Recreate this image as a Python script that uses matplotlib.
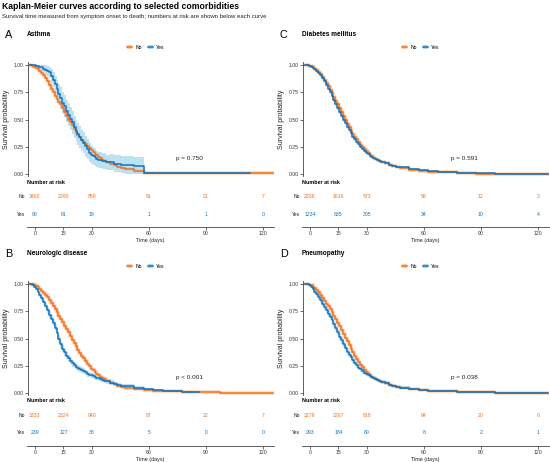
import numpy as np
import matplotlib
matplotlib.use("Agg")
import matplotlib.pyplot as plt
from matplotlib.lines import Line2D
from matplotlib.patches import Patch

plt.rcParams["font.family"] = ["Liberation Sans", "DejaVu Sans"]

days = list(range(0, 41)) + [42, 44, 46, 48, 50, 55, 60, 65, 70, 80, 90, 100, 110, 120, 128]
nan = np.nan

# A - Asthma
asthma_no = [1.0, 0.995, 0.985, 0.973, 0.96, 0.944, 0.925, 0.905, 0.885, 0.85,
             0.815, 0.783, 0.75, 0.72, 0.69, 0.665, 0.64, 0.605, 0.57, 0.535,
             0.50, 0.475, 0.45, 0.42, 0.39, 0.365, 0.34, 0.317, 0.295, 0.277,
             0.26, 0.242, 0.225, 0.207, 0.19, 0.175, 0.16, 0.147, 0.135, 0.125,
             0.115] + \
            [0.098, 0.083, 0.07, 0.058, 0.048, 0.028, 0.016, 0.013, 0.012, 0.01,
             0.01, 0.01, 0.01, 0.01, 0.01]
asthma_yes = [1.0, 1.0, 1.0, 0.989, 0.989, 0.978, 0.978, 0.967, 0.956, 0.944,
              0.933, 0.9, 0.867, 0.822, 0.778, 0.733, 0.7, 0.656, 0.622, 0.578,
              0.544, 0.511, 0.478, 0.433, 0.4, 0.367, 0.344, 0.311, 0.289, 0.256,
              0.233, 0.2, 0.178, 0.167, 0.156, 0.144, 0.133, 0.133, 0.122, 0.122,
              0.111] + \
             [0.111, 0.1, 0.1, 0.089, 0.089, 0.078, 0.011, 0.011, 0.011, 0.011,
              0.011, 0.011, 0.011, nan, nan]
asthma_yes_ci = [0, 0, 0, 0.015, 0.02, 0.025, 0.03, 0.035, 0.04, 0.045,
                 0.05, 0.06, 0.07, 0.078, 0.085, 0.09, 0.095, 0.098, 0.10, 0.102,
                 0.105, 0.105, 0.105, 0.102, 0.10, 0.10, 0.10, 0.097, 0.095, 0.092,
                 0.09, 0.085, 0.08, 0.078, 0.075, 0.072, 0.07, 0.07, 0.07, 0.07,
                 0.07] + \
                [0.072, 0.074, 0.076, 0.078, 0.08, 0.08, 0.005, 0.005, 0.005, 0.005,
                 0.005, 0.005, 0.005, nan, nan]

# B - Neurologic disease
neuro_no = [1.0, 0.996, 0.99, 0.981, 0.97, 0.956, 0.94, 0.921, 0.90, 0.878,
            0.855, 0.828, 0.80, 0.77, 0.74, 0.71, 0.68, 0.65, 0.62, 0.59,
            0.56, 0.525, 0.49, 0.46, 0.43, 0.40, 0.37, 0.345, 0.32, 0.295,
            0.27, 0.249, 0.228, 0.211, 0.195, 0.18, 0.165, 0.152, 0.14, 0.129,
            0.118] + \
           [0.10, 0.085, 0.072, 0.061, 0.052, 0.04, 0.031, 0.025, 0.02, 0.013,
            0.01, 0.008, 0.007, 0.006, 0.006]
neuro_yes = [1.0, 0.992, 0.975, 0.954, 0.93, 0.90, 0.87, 0.837, 0.80, 0.76,
             0.72, 0.682, 0.645, 0.60, 0.55, 0.50, 0.45, 0.41, 0.375, 0.345,
             0.32, 0.297, 0.275, 0.259, 0.245, 0.234, 0.225, 0.215, 0.205, 0.192,
             0.18, 0.172, 0.165, 0.157, 0.15, 0.144, 0.138, 0.131, 0.125, 0.117,
             0.11] + \
            [0.10, 0.088, 0.078, 0.072, 0.067, 0.05, 0.038, 0.031, 0.025, 0.013,
             nan, nan, nan, nan, nan]
neuro_yes_ci = [0, 0.005, 0.01, 0.014, 0.017, 0.02, 0.022, 0.025, 0.027, 0.029,
                0.03, 0.031, 0.032, 0.033, 0.033, 0.033, 0.033, 0.033, 0.032, 0.031,
                0.03, 0.03, 0.029, 0.029, 0.028, 0.028, 0.027, 0.027, 0.026, 0.026,
                0.025, 0.025, 0.024, 0.024, 0.024, 0.023, 0.023, 0.022, 0.022, 0.021,
                0.021] + \
               [0.02, 0.02, 0.019, 0.018, 0.017, 0.015, 0.013, 0.012, 0.01, 0.008,
                nan, nan, nan, nan, nan]

# C - Diabetes mellitus
diab_no = [1.0, 0.998, 0.994, 0.987, 0.978, 0.966, 0.952, 0.935, 0.915, 0.891,
           0.865, 0.836, 0.805, 0.773, 0.74, 0.708, 0.675, 0.64, 0.605, 0.57,
           0.535, 0.50, 0.465, 0.432, 0.40, 0.372, 0.345, 0.32, 0.295, 0.272,
           0.25, 0.231, 0.212, 0.196, 0.18, 0.167, 0.154, 0.143, 0.133, 0.124,
           0.115] + \
          [0.101, 0.088, 0.077, 0.067, 0.058, 0.042, 0.031, 0.025, 0.02, 0.013,
           0.009, 0.007, 0.005, 0.004, 0.004]
diab_yes = [1.0, 0.998, 0.993, 0.985, 0.975, 0.962, 0.945, 0.926, 0.905, 0.879,
            0.85, 0.818, 0.785, 0.75, 0.715, 0.68, 0.645, 0.61, 0.575, 0.537,
            0.50, 0.467, 0.435, 0.404, 0.375, 0.347, 0.32, 0.297, 0.275, 0.255,
            0.235, 0.217, 0.20, 0.186, 0.172, 0.161, 0.15, 0.141, 0.132, 0.124,
            0.116] + \
           [0.103, 0.091, 0.081, 0.072, 0.064, 0.048, 0.037, 0.03, 0.024, 0.016,
            0.011, 0.008, 0.006, 0.005, 0.005]
diab_yes_ci = [0, 0.002, 0.004, 0.006, 0.007, 0.009, 0.01, 0.011, 0.012, 0.013,
               0.014, 0.015, 0.016, 0.016, 0.017, 0.017, 0.018, 0.018, 0.018, 0.018,
               0.018, 0.018, 0.018, 0.017, 0.017, 0.016, 0.016, 0.015, 0.015, 0.014,
               0.014, 0.013, 0.013, 0.012, 0.012, 0.011, 0.011, 0.01, 0.01, 0.01,
               0.01] + \
              [0.009, 0.009, 0.008, 0.008, 0.008, 0.007, 0.006, 0.005, 0.005, 0.004,
               0.004, 0.003, 0.003, 0.003, 0.003]

# D - Pneumopathy
pneumo_no = [1.0, 0.999, 0.995, 0.987, 0.975, 0.961, 0.945, 0.924, 0.90, 0.872,
             0.845, 0.82, 0.795, 0.768, 0.74, 0.71, 0.68, 0.648, 0.615, 0.58,
             0.545, 0.51, 0.475, 0.44, 0.405, 0.375, 0.345, 0.317, 0.29, 0.263,
             0.238, 0.217, 0.197, 0.182, 0.167, 0.155, 0.143, 0.133, 0.123, 0.114,
             0.105] + \
            [0.092, 0.081, 0.07, 0.061, 0.054, 0.04, 0.031, 0.026, 0.021, 0.015,
             0.011, 0.009, 0.008, 0.007, 0.007]
pneumo_yes = [1.0, 0.997, 0.99, 0.975, 0.955, 0.93, 0.905, 0.879, 0.852, 0.82,
              0.79, 0.76, 0.73, 0.70, 0.67, 0.635, 0.60, 0.56, 0.52, 0.485,
              0.45, 0.416, 0.382, 0.355, 0.33, 0.305, 0.282, 0.259, 0.237, 0.22,
              0.203, 0.191, 0.18, 0.17, 0.16, 0.15, 0.14, 0.131, 0.122, 0.113,
              0.105] + \
             [0.093, 0.082, 0.072, 0.063, 0.054, 0.04, 0.03, 0.025, 0.02, 0.014,
              0.011, 0.009, 0.008, 0.007, 0.007]
pneumo_yes_ci = [0, 0.004, 0.008, 0.011, 0.014, 0.017, 0.019, 0.021, 0.022, 0.024,
                 0.025, 0.026, 0.027, 0.027, 0.028, 0.028, 0.029, 0.029, 0.029, 0.029,
                 0.029, 0.028, 0.028, 0.027, 0.027, 0.026, 0.026, 0.025, 0.025, 0.024,
                 0.024, 0.023, 0.022, 0.022, 0.021, 0.02, 0.02, 0.019, 0.019, 0.018,
                 0.018] + \
                [0.017, 0.016, 0.015, 0.014, 0.014, 0.012, 0.011, 0.01, 0.01, 0.009,
                 0.008, 0.008, 0.007, 0.007, 0.007]

risk_days = [0, 15, 30, 60, 90, 120]
asthma_risk_no = [3462, 2390, 859, 91, 21, 7]
asthma_risk_yes = [90, 61, 19, 1, 1, 0]
neuro_risk_no = [3333, 2324, 840, 87, 22, 7]
neuro_risk_yes = [239, 127, 38, 5, 0, 0]
diab_risk_no = [2338, 1616, 573, 58, 12, 3]
diab_risk_yes = [1234, 835, 305, 34, 10, 4]
pneumo_risk_no = [3279, 2267, 818, 84, 20, 6]
pneumo_risk_yes = [293, 184, 60, 8, 2, 1]

# last follow-up day of each curve: (no, yes)
asthma_end = (128, 116)
neuro_end = (128, 89)
diab_end = (128, 128)
pneumo_end = (128, 128)

ORANGE = "#F2701F"
BLUE = "#1273BE"
ORANGE_FILL = "#FBCBA8"
BLUE_FILL = "#A9D7EE"

W, H = 550, 462
fig = plt.figure(figsize=(W / 100, H / 100), dpi=100)


def box(l, t, r, b):
    return [l / W, 1 - b / H, (r - l) / W, (b - t) / H]


def curve(s, end):
    s = np.array(s, dtype=float)
    t = np.array(days, dtype=float)
    keep = ~np.isnan(s)
    t, s = t[keep], s[keep]
    t = np.append(t[t < end], end)
    s = np.append(s[:len(t) - 1], s[len(t) - 2])
    return t, s


def panel(dx, dy, letter, name, s_no, s_yes, ci_yes, ends, r_no, r_yes, ptxt):
    fig.text((5 + dx) / W, 1 - (35 + dy) / H, letter, fontsize=7.8, va="center", ha="left")
    fig.text((27 + dx) / W, 1 - (34.5 + dy) / H, name, fontsize=4.7, fontweight="bold",
             va="center", ha="left")

    ax = fig.add_axes(box(27.7 + dx, 62 + dy, 274 + dx, 176 + dy))
    t, s = curve(s_no, ends[0])
    ax.step(t, s, where="post", color=ORANGE_FILL, lw=2.6, alpha=0.8, zorder=1)
    ax.step(t, s, where="post", color=ORANGE, lw=1.1, zorder=3)
    t, s = curve(s_yes, ends[1])
    _, hw = curve(ci_yes, ends[1])
    ax.fill_between(t, np.clip(s - hw, 0, 1), np.clip(s + hw, 0, 1), step="post",
                    color=BLUE_FILL, alpha=0.75, lw=0, zorder=2)
    ax.step(t, s, where="post", color=BLUE, lw=1.1, zorder=4)
    ax.set_xlim(-1.2, 128.5)
    ax.set_ylim(-0.0137, 1.0274)
    ax.set_yticks([0, 0.25, 0.5, 0.75, 1.0])
    ax.set_yticklabels(["0.00", "0.25", "0.50", "0.75", "1.00"])
    ax.set_xticks([])
    for k in ["top", "right", "bottom"]:
        ax.spines[k].set_visible(False)
    ax.spines["left"].set_color("#444444")
    ax.spines["left"].set_linewidth(0.6)
    ax.tick_params(axis="y", labelsize=3.7, length=2, width=0.5, pad=1, colors="#333333")
    ax.set_ylabel("Survival probability", fontsize=5, labelpad=2.5, color="#222222")
    ax.text(84, 0.15, ptxt, fontsize=4.6, ha="center", va="center", color="#222222")

    handles = [(Patch(facecolor=ORANGE_FILL, edgecolor="none"), Line2D([], [], color=ORANGE, lw=1.1)),
               (Patch(facecolor=BLUE_FILL, edgecolor="none"), Line2D([], [], color=BLUE, lw=1.1))]
    ax.legend(handles, ["No", "Yes"], loc="center", bbox_to_anchor=(0.48, 1.13), ncol=2,
              frameon=False, fontsize=3.7, handlelength=1.0, handleheight=1.0,
              columnspacing=1.2, handletextpad=0.6)

    tb = fig.add_axes(box(27 + dx, 177 + dy, 274 + dx, 227 + dy))
    tb.set_xlim(-4.2, 125.8)
    tb.set_ylim(0, 1)
    for k in ["top", "right", "left"]:
        tb.spines[k].set_visible(False)
    tb.spines["bottom"].set_color("#444444")
    tb.spines["bottom"].set_linewidth(0.6)
    tb.set_yticks([])
    tb.set_xticks(risk_days)
    tb.tick_params(axis="x", labelsize=3.7, length=2, width=0.5, pad=1, colors="#333333")
    tb.set_xlabel("Time (days)", fontsize=3.9, labelpad=1.5, color="#222222")
    tb.text(0, 0.9, "Number at risk", transform=tb.transAxes, fontsize=3.9,
            fontweight="bold", ha="left", va="center")
    for y, lab, vals, c in [(0.606, "No", r_no, ORANGE), (0.26, "Yes", r_yes, BLUE)]:
        tb.text(-0.008, y, lab, transform=tb.transAxes, fontsize=3.6, ha="right",
                va="center", color="#222222")
        for d, v in zip(risk_days, vals):
            tb.text(d, y, str(v), fontsize=3.7, ha="center", va="center", color=c)


fig.text(2 / W, 1 - 6.5 / H, "Kaplan-Meier curves according to selected comorbidities",
         fontsize=6.2, fontweight="bold", ha="left", va="center")
fig.text(2 / W, 1 - 16.5 / H,
         "Survival time measured from symptom onset to death; numbers at risk are shown below each curve",
         fontsize=4.35, ha="left", va="center", color="#222222")

panel(0, 0, "A", "Asthma", asthma_no, asthma_yes, asthma_yes_ci, asthma_end,
      asthma_risk_no, asthma_risk_yes, "p = 0.750")
panel(275, 0, "C", "Diabetes mellitus", diab_no, diab_yes, diab_yes_ci, diab_end,
      diab_risk_no, diab_risk_yes, "p = 0.591")
panel(0, 219, "B", "Neurologic disease", neuro_no, neuro_yes, neuro_yes_ci, neuro_end,
      neuro_risk_no, neuro_risk_yes, "p < 0.001")
panel(275, 219, "D", "Pneumopathy", pneumo_no, pneumo_yes, pneumo_yes_ci, pneumo_end,
      pneumo_risk_no, pneumo_risk_yes, "p = 0.038")

fig.savefig("out.png", dpi=100)
